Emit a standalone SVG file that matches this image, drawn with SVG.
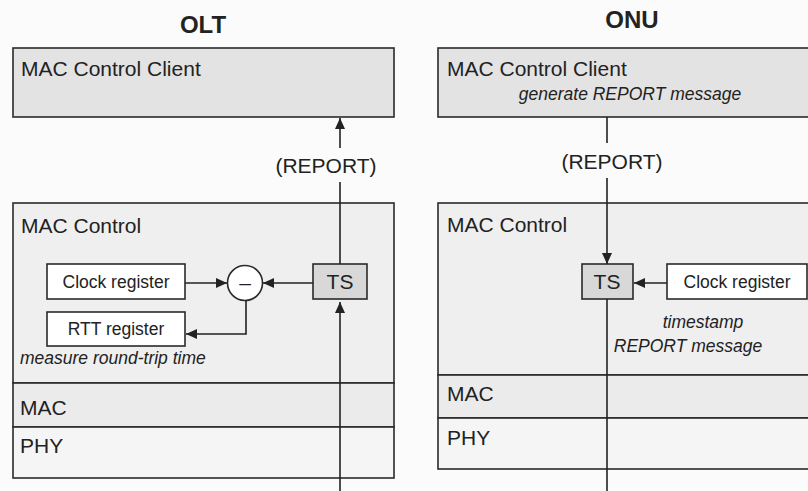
<svg xmlns="http://www.w3.org/2000/svg" width="808" height="491" viewBox="0 0 808 491">
<defs>
<marker id="arr" markerUnits="userSpaceOnUse" markerWidth="12" markerHeight="10" refX="11" refY="5" orient="auto">
<path d="M0,0 L11,5 L0,10 Z" fill="#222"/>
</marker>
<style>
text{font-family:"Liberation Sans",Arial,sans-serif;fill:#222}
.title{font-size:24px;font-weight:bold;text-anchor:middle}
.lbl{font-size:21px}
.sm{font-size:17.5px}
.it{font-size:17.5px;font-style:italic}
.mid{text-anchor:middle}
.box{stroke:#2a2a2a;stroke-width:1.6}
.client{fill:#e3e3e3}
.ctrl{fill:#efefef}
.mac{fill:#ebebeb}
.phy{fill:#f5f5f5}
.reg{fill:#ffffff}
.ts{fill:#d8d8d8}
.ln{stroke:#222;stroke-width:1.6;fill:none}
</style>
</defs>
<rect width="808" height="491" fill="#fbfbfb"/>

<g id="olt">
<text class="title" x="203" y="33">OLT</text>
<g id="olt-client">
<rect class="box client" x="13" y="48" width="381" height="69"/>
<text class="lbl" x="21" y="76">MAC Control Client</text>
</g>
<g id="olt-control">
<rect class="box ctrl" x="13" y="203" width="381" height="180"/>
<text class="lbl" x="21" y="233">MAC Control</text>
<text class="it" x="20" y="364">measure round-trip time</text>
</g>
<g id="olt-mac">
<rect class="box mac" x="13" y="383" width="381" height="44"/>
<text class="lbl" x="20" y="415">MAC</text>
</g>
<g id="olt-phy">
<rect class="box phy" x="13" y="427" width="381" height="51"/>
<text class="lbl" x="20" y="453">PHY</text>
</g>
<g id="olt-clock">
<rect class="box reg" x="47" y="264" width="138" height="35"/>
<text class="sm mid" x="116" y="288">Clock register</text>
</g>
<g id="olt-rtt">
<rect class="box reg" x="47" y="312" width="138" height="34"/>
<text class="sm mid" x="116" y="335">RTT register</text>
</g>
<g id="olt-sub">
<circle class="box reg" cx="245" cy="283" r="17.5"/>
<text class="lbl mid" x="245" y="290">–</text>
</g>
<g id="olt-ts">
<rect class="box ts" x="313" y="264" width="54" height="35"/>
<text class="lbl mid" x="340" y="289">TS</text>
</g>
<text class="lbl mid" x="326" y="173">(REPORT)</text>
</g>

<g id="onu">
<text class="title" x="632" y="28">ONU</text>
<g id="onu-client">
<rect class="box client" x="438" y="48" width="380" height="69"/>
<text class="lbl" x="447" y="76">MAC Control Client</text>
<text class="it mid" x="630" y="100">generate REPORT message</text>
</g>
<g id="onu-control">
<rect class="box ctrl" x="438" y="203" width="380" height="172"/>
<text class="lbl" x="447" y="232">MAC Control</text>
<text class="it mid" x="703" y="328">timestamp</text>
<text class="it mid" x="688" y="352">REPORT message</text>
</g>
<g id="onu-mac">
<rect class="box mac" x="438" y="375" width="380" height="43"/>
<text class="lbl" x="447" y="401">MAC</text>
</g>
<g id="onu-phy">
<rect class="box phy" x="438" y="418" width="380" height="51"/>
<text class="lbl" x="447" y="445">PHY</text>
</g>
<g id="onu-ts">
<rect class="box ts" x="582" y="264" width="51" height="35"/>
<text class="lbl mid" x="607" y="289">TS</text>
</g>
<g id="onu-clock">
<rect class="box reg" x="667" y="264" width="140" height="35"/>
<text class="sm mid" x="737" y="288">Clock register</text>
</g>
<text class="lbl mid" x="612" y="169">(REPORT)</text>
</g>

<g id="connectors">
<line class="ln" x1="340" y1="148" x2="340" y2="118" marker-end="url(#arr)"/>
<line class="ln" x1="340" y1="182" x2="340" y2="264"/>
<line class="ln" x1="340" y1="491" x2="340" y2="302" marker-end="url(#arr)"/>
<line class="ln" x1="185" y1="283" x2="227" y2="283" marker-end="url(#arr)"/>
<line class="ln" x1="313" y1="283" x2="263" y2="283" marker-end="url(#arr)"/>
<polyline class="ln" points="246,300 246,334 186,334" marker-end="url(#arr)"/>
<line class="ln" x1="607" y1="117" x2="607" y2="143"/>
<line class="ln" x1="607" y1="178" x2="607" y2="264" marker-end="url(#arr)"/>
<line class="ln" x1="607" y1="299" x2="607" y2="491"/>
<line class="ln" x1="667" y1="283" x2="634" y2="283" marker-end="url(#arr)"/>
</g>
</svg>
